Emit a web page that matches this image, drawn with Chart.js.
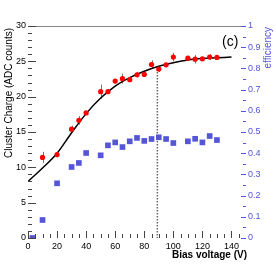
<!DOCTYPE html>
<html><head><meta charset="utf-8">
<style>html,body{margin:0;padding:0;background:#fff}#c{display:block}</style>
<script src="https://cdn.jsdelivr.net/npm/chart.js@4"></script>
</head>
<body><canvas id="c" width="276" height="265"></canvas>
<script>
const voltages = [10,20,30,35,40,50,55,60,65,70,75,80,85,90,95,100,110,115,120,125,130];
const charge = [11.4,11.8,15.4,16.65,17.7,20.7,20.7,22.2,22.55,22.4,23.1,23.15,24.55,23.9,24.5,25.6,25.45,25.3,25.35,25.6,25.55];
const chargeErr = [0.8,0.4,0.5,0.6,0.3,1.0,0.3,0.3,0.7,0.3,0.4,0.3,0.6,0.4,0.3,0.6,0.3,0.6,0.3,0.4,0.3];
const effVoltages = [3,10,20,30,35,40,50,55,60,65,70,75,80,85,90,95,100,110,115,120,125,130];
const efficiency = [0,0.085,0.258,0.335,0.354,0.401,0.39,0.437,0.451,0.429,0.456,0.472,0.458,0.467,0.475,0.467,0.448,0.456,0.468,0.451,0.481,0.462];
const fitVoltages = [0,10,20,30,40,50,60,70,80,90,100,110,120,130,140];
const fitCharge = [8.0,9.9,12.0,14.9,17.6,19.8,21.5,22.7,23.6,24.3,24.8,25.2,25.4,25.5,25.6];
const xTicks = [0,20,40,60,80,100,120,140];
const chargeTicks = [0,5,10,15,20,25,30];
const effTicks = [0,0.1,0.2,0.3,0.4,0.5,0.6,0.7,0.8,0.9,1];
const effLabels = ['0','0.1','0.2','0.3','0.4','0.5','0.6','0.7','0.8','0.9','1'];
const depletionVoltage = 89;
const depletionCharge = 23.9;

const FONT = 'Liberation Sans, Arial, sans-serif';
const BLUE = '#5555d8';

const extras = {
  id: 'extras',
  beforeDatasetsDraw(chart) {
    const ctx = chart.ctx, x = chart.scales.x, y = chart.scales.y;
    ctx.save();
    // dotted depletion line
    ctx.strokeStyle = '#666';
    ctx.lineWidth = 1.5;
    ctx.setLineDash([1.5, 1.5]);
    ctx.beginPath();
    ctx.moveTo(x.getPixelForValue(depletionVoltage), y.getPixelForValue(depletionCharge));
    ctx.lineTo(x.getPixelForValue(depletionVoltage), y.getPixelForValue(0));
    ctx.stroke();
    ctx.setLineDash([]);
    // error bars
    ctx.strokeStyle = '#777';
    ctx.lineWidth = 1;
    voltages.forEach((v, i) => {
      const px = Math.round(x.getPixelForValue(v)) + 0.5;
      ctx.beginPath();
      ctx.moveTo(px, y.getPixelForValue(charge[i] - chargeErr[i]));
      ctx.lineTo(px, y.getPixelForValue(charge[i] + chargeErr[i]));
      ctx.stroke();
    });
    ctx.restore();
  },
  afterDraw(chart) {
    const ctx = chart.ctx, a = chart.chartArea;
    const x = chart.scales.x, y = chart.scales.y, y2 = chart.scales.y2;
    ctx.save();
    // top frame line
    ctx.strokeStyle = '#888';
    ctx.lineWidth = 1;
    ctx.beginPath();
    ctx.moveTo(a.left, Math.round(a.top) + 0.5);
    ctx.lineTo(a.right - 4, Math.round(a.top) + 0.5);
    ctx.stroke();
    // left ticks
    ctx.strokeStyle = '#444';
    for (let v = 0; v <= 30; v += 1) {
      const py = Math.round(y.getPixelForValue(v)) + 0.5;
      const len = v % 5 === 0 ? 8 : 4;
      ctx.beginPath(); ctx.moveTo(a.left, py); ctx.lineTo(a.left + len, py); ctx.stroke();
    }
    // bottom ticks
    for (let v = 0; v <= 145; v += 5) {
      const px = Math.round(x.getPixelForValue(v)) + 0.5;
      const len = v % 20 === 0 ? 7 : 4;
      ctx.beginPath(); ctx.moveTo(px, a.bottom); ctx.lineTo(px, a.bottom - len); ctx.stroke();
    }
    // right ticks
    ctx.strokeStyle = BLUE;
    for (let k = 0; k <= 20; k++) {
      const py = Math.round(y2.getPixelForValue(k * 0.05)) + 0.5;
      const len = k % 2 === 0 ? 5 : 3;
      ctx.beginPath(); ctx.moveTo(a.right, py); ctx.lineTo(a.right - len, py); ctx.stroke();
    }
    // titles
    ctx.fillStyle = '#000';
    ctx.textBaseline = 'middle';
    ctx.font = '10px ' + FONT;
    ctx.save();
    ctx.translate(9, 28);
    ctx.rotate(-Math.PI / 2);
    ctx.textAlign = 'right';
    ctx.fillText('Cluster Charge (ADC counts)', 0, 0);
    ctx.restore();
    ctx.save();
    ctx.fillStyle = BLUE;
    ctx.translate(268, 27);
    ctx.rotate(-Math.PI / 2);
    ctx.textAlign = 'right';
    ctx.fillText('efficiency', 0, 0);
    ctx.restore();
    ctx.textAlign = 'right';
    ctx.font = 'bold 10px ' + FONT;
    ctx.fillText('Bias voltage (V)', 247, 255);
    ctx.textAlign = 'left';
    ctx.font = '14px ' + FONT;
    ctx.fillText('(c)', 222, 42);
    ctx.restore();
  }
};

new Chart(document.getElementById('c'), {
  type: 'scatter',
  data: {
    datasets: [
      {
        type: 'line',
        data: fitVoltages.map((v, i) => ({ x: v, y: fitCharge[i] })),
        borderColor: '#000', borderWidth: 1.5, pointRadius: 0,
        cubicInterpolationMode: 'monotone', fill: false, yAxisID: 'y', order: 1
      },
      {
        data: voltages.map((v, i) => ({ x: v, y: charge[i] })),
        backgroundColor: '#ff0000', borderColor: '#ff0000', borderWidth: 0,
        pointRadius: 2.6, pointStyle: 'circle', yAxisID: 'y', order: 0
      },
      {
        data: effVoltages.map((v, i) => ({ x: v, y: efficiency[i] })),
        backgroundColor: BLUE, borderColor: BLUE, borderWidth: 0,
        pointRadius: 4, pointStyle: 'rect', yAxisID: 'y2', order: 2
      }
    ]
  },
  options: {
    responsive: false, animation: false, devicePixelRatio: 1,
    layout: { padding: { top: 26, left: 0, right: 0, bottom: 0 } },
    plugins: { legend: { display: false }, tooltip: { enabled: false } },
    scales: {
      x: {
        type: 'linear', min: 0, max: 150,
        afterBuildTicks: s => { s.ticks = xTicks.map(v => ({ value: v })); },
        afterFit: s => { s.height = 27; },
        grid: { display: false, drawTicks: false }, border: { display: false },
        ticks: { color: '#000', font: { size: 9, family: FONT }, padding: 3, maxRotation: 0, autoSkip: false }
      },
      y: {
        type: 'linear', position: 'left', min: 0, max: 30,
        afterBuildTicks: s => { s.ticks = chargeTicks.map(v => ({ value: v })); },
        afterFit: s => { s.width = 28; },
        grid: { display: false, drawTicks: false }, border: { display: false },
        ticks: { color: '#000', font: { size: 9, family: FONT }, padding: 2 }
      },
      y2: {
        type: 'linear', position: 'right', min: 0, max: 1,
        afterBuildTicks: s => { s.ticks = effTicks.map(v => ({ value: v })); },
        afterFit: s => { s.width = 30; },
        grid: { display: false, drawTicks: false }, border: { display: false },
        ticks: { color: BLUE, font: { size: 9, family: FONT }, padding: 2,
          callback: (v) => effLabels[effTicks.findIndex(t => Math.abs(t - v) < 1e-6)] }
      }
    }
  },
  plugins: [extras]
});
</script>
</body></html>
